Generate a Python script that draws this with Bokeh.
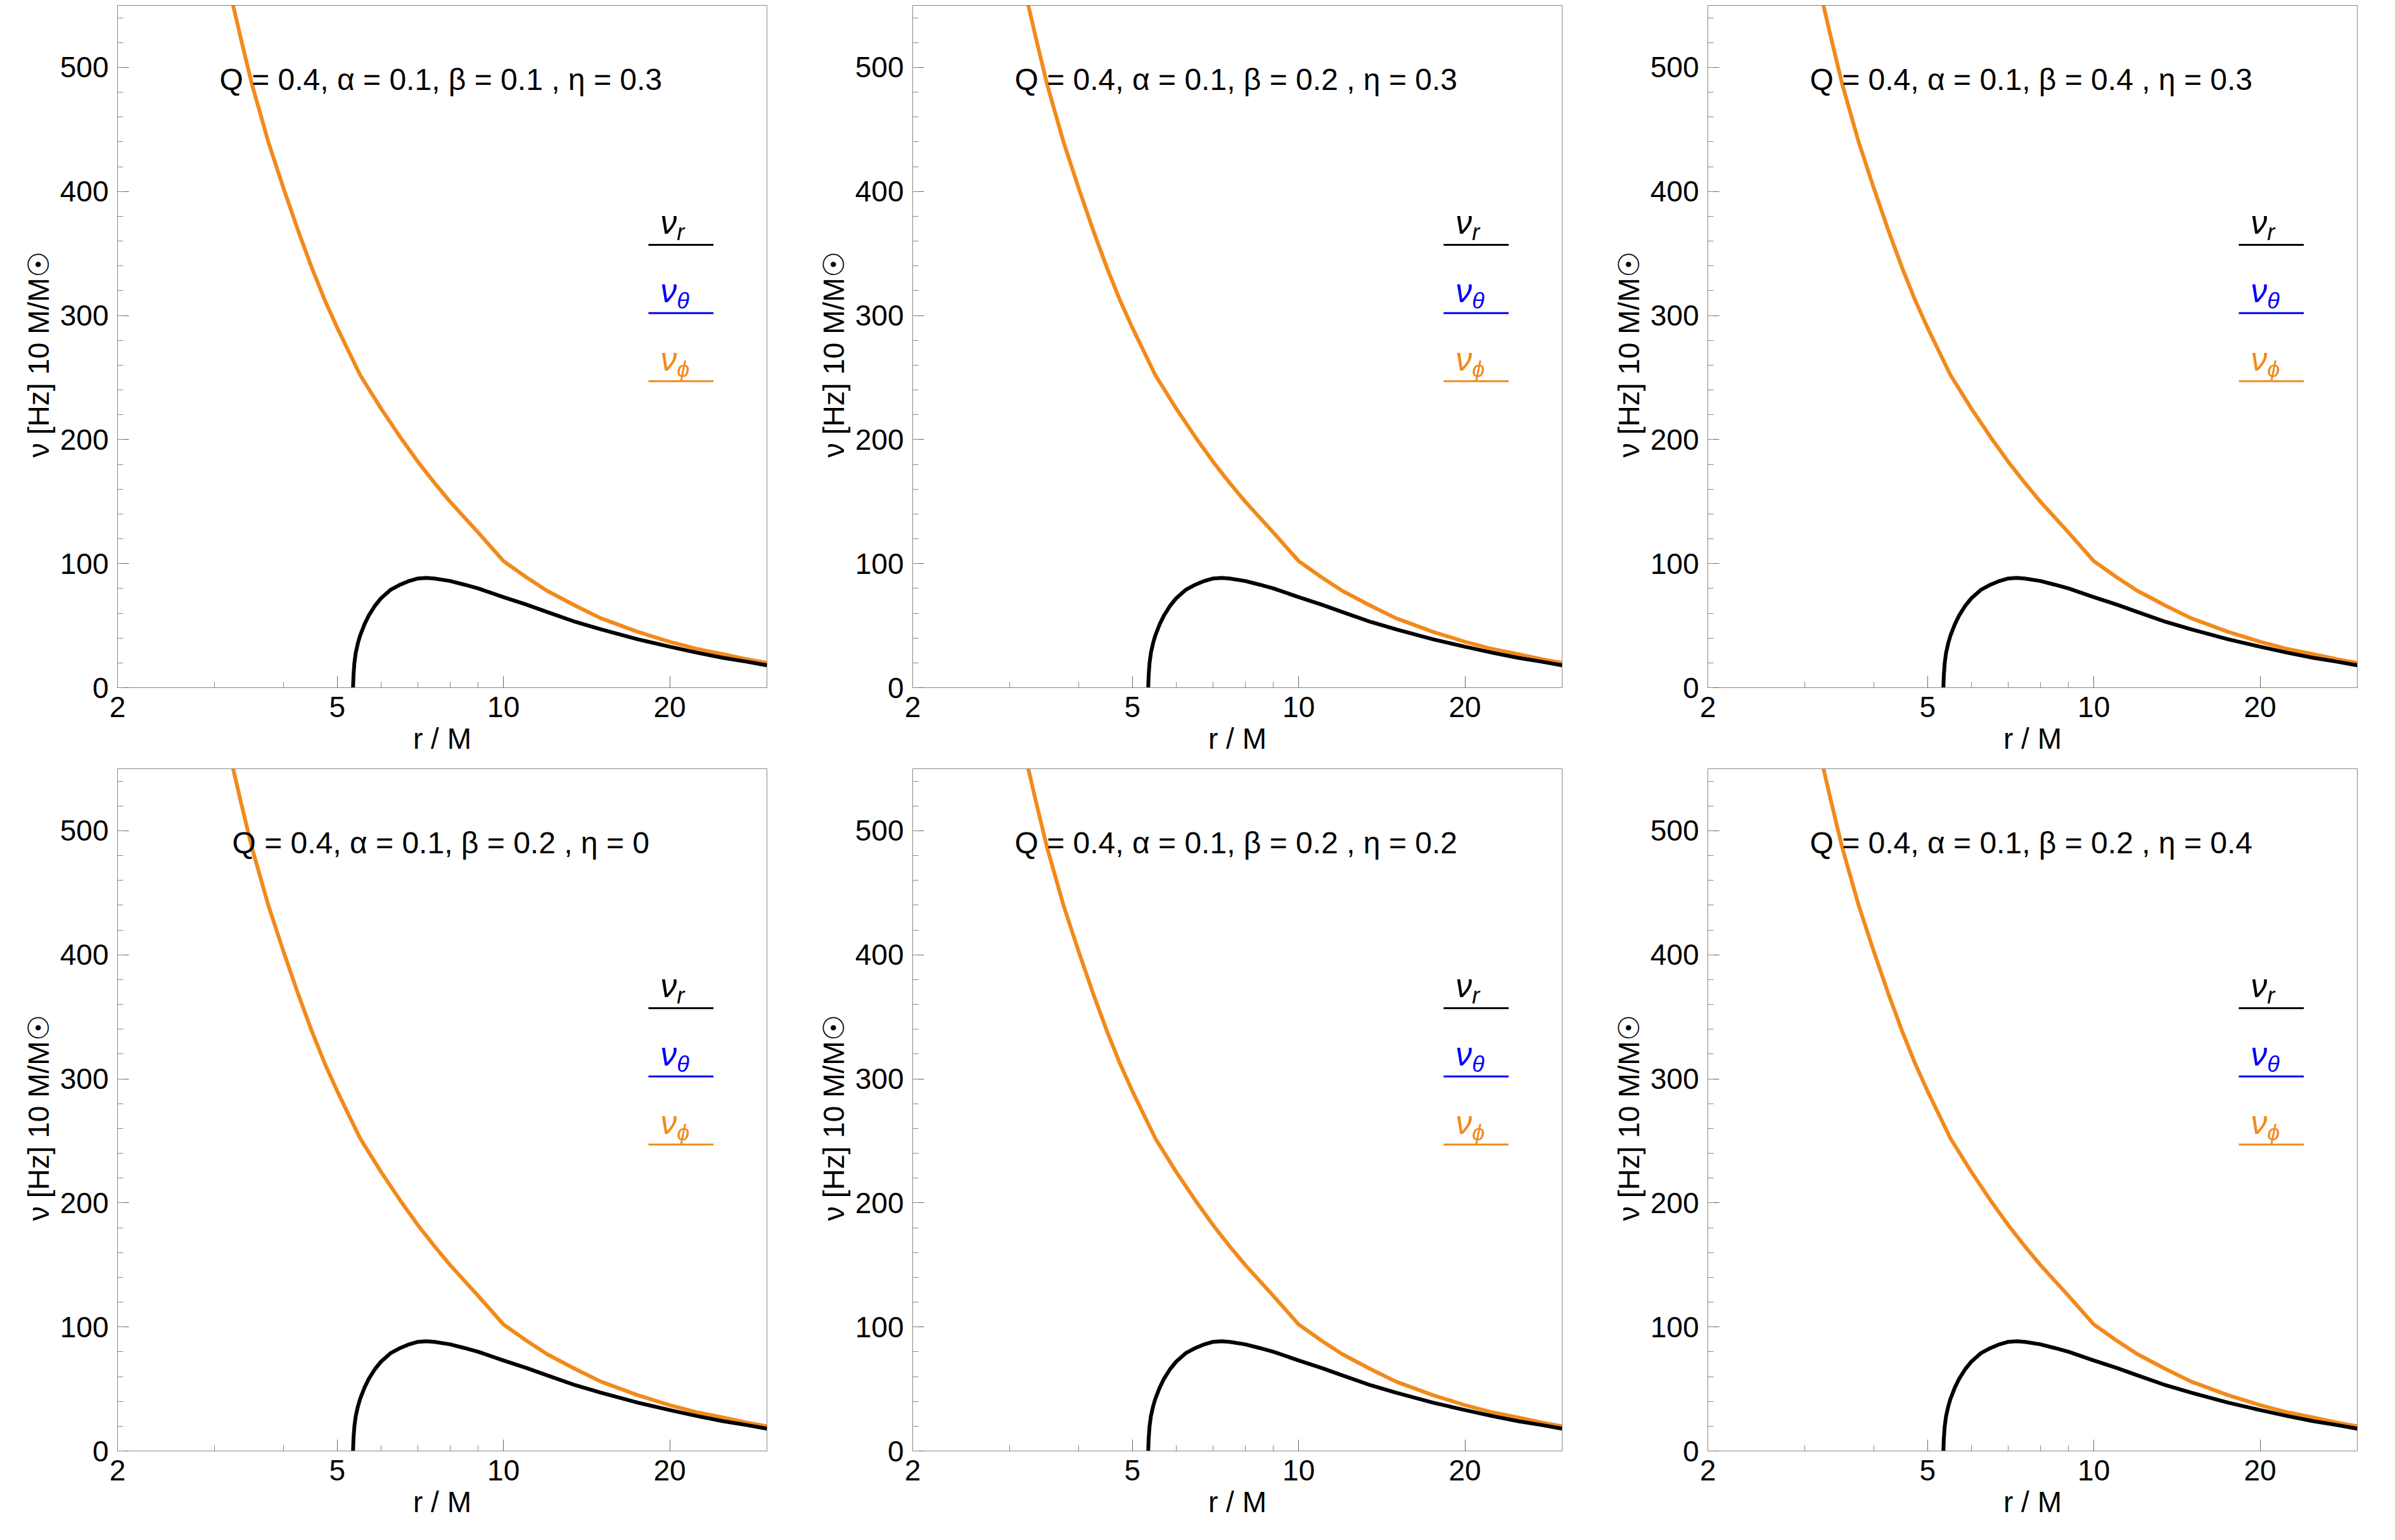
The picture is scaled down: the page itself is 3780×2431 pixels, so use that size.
from bokeh.plotting import figure
from bokeh.layouts import gridplot
from bokeh.models import FixedTicker, Label, Range1d
from bokeh.embed import file_html
from bokeh.resources import INLINE

# data (all panels nearly identical)
r_phi = [3.2, 3.35, 3.5, 3.75, 4, 4.25, 4.5, 4.75, 5, 5.5, 6, 6.5, 7, 7.5, 8, 9, 10,
         11, 12, 13.5, 15, 17.5, 20, 22.5, 25, 27.5, 30]
nu_phi = [560, 522, 487, 440, 402, 368, 338, 312, 290, 252, 225, 202, 182, 165, 150,
          125, 102, 89, 78, 66, 56, 45, 37, 31, 27, 23, 20]
r_r = [5.34, 5.35, 5.37, 5.4, 5.45, 5.5, 5.6, 5.7, 5.85, 6, 6.25, 6.5, 6.75, 7, 7.25,
       7.5, 8, 8.5, 9, 10, 11, 12, 13.5, 15, 17.5, 20, 22.5, 25, 27.5, 30]
nu_r = [0, 10, 20, 28, 36, 42, 51, 58, 66, 72, 79, 83, 86, 88, 88.5, 88, 86, 83, 80,
        73, 67, 61, 53, 47, 39, 33, 28, 24, 21, 18]

titles = [
    "Q = 0.4, α = 0.1, β = 0.1 , η = 0.3",
    "Q = 0.4, α = 0.1, β = 0.2 , η = 0.3",
    "Q = 0.4, α = 0.1, β = 0.4 , η = 0.3",
    "Q = 0.4, α = 0.1, β = 0.2 , η = 0",
    "Q = 0.4, α = 0.1, β = 0.2 , η = 0.2",
    "Q = 0.4, α = 0.1, β = 0.2 , η = 0.4",
]
x_ticks = [2, 5, 10, 20]
x_minor = [3, 4, 6, 7, 8, 9, 30]
y_ticks = [0, 100, 200, 300, 400, 500]
y_minor = list(range(0, 560, 20))

ORANGE = "#f28a1b"
FONT = "Liberation Sans"


def style_axis(ax):
    ax.major_tick_in = 18
    ax.major_tick_out = 0
    ax.minor_tick_in = 9
    ax.minor_tick_out = 0
    ax.axis_line_color = "#888888"
    ax.major_tick_line_color = "#666666"
    ax.minor_tick_line_color = "#888888"
    ax.major_label_text_font = FONT
    ax.major_label_text_font_size = "46px"
    ax.major_label_text_color = "black"
    ax.major_label_standoff = 14
    ax.axis_label_text_font = FONT
    ax.axis_label_text_font_size = "46px"
    ax.axis_label_text_font_style = "normal"
    ax.axis_label_text_color = "black"


def panel(title):
    p = figure(width=1255, height=1205, x_axis_type="log", output_backend="svg",
               toolbar_location=None, x_range=Range1d(2, 30), y_range=Range1d(0, 550),
               min_border_left=185, min_border_right=45, min_border_top=8,
               min_border_bottom=120)
    p.grid.visible = False
    p.outline_line_color = "#888888"
    p.line(r_phi, nu_phi, line_color="blue", line_width=4)
    p.line(r_phi, nu_phi, line_color=ORANGE, line_width=6)
    p.line(r_r, nu_r, line_color="black", line_width=6)

    p.xaxis.ticker = FixedTicker(ticks=x_ticks, minor_ticks=x_minor)
    p.xaxis.axis_label = "r / M"
    p.yaxis.ticker = FixedTicker(ticks=y_ticks, minor_ticks=y_minor)
    p.yaxis.axis_label = "ν  [Hz]  10 M/M☉"
    style_axis(p.xaxis[0])
    style_axis(p.yaxis[0])

    p.add_layout(Label(x=7.7, y=490, text=title, text_align="center",
                       text_baseline="middle", text_font=FONT, text_color="black",
                       text_font_size="48px"))
    for yl, yt, col, sub in [(357, 375, "black", "r"), (302, 320, "blue", "θ"),
                             (247, 265, ORANGE, "ϕ")]:
        p.segment(x0=[18.3], y0=[yl], x1=[24.0], y1=[yl], line_color=col, line_width=3)
        p.add_layout(Label(x=20.6, y=yt, text="ν", text_color=col, text_font=FONT,
                           text_font_size="52px", text_font_style="italic",
                           text_align="right", text_baseline="middle"))
        p.add_layout(Label(x=20.6, y=yt - 8, text=sub, text_color=col, text_font=FONT,
                           text_font_size="36px", text_font_style="italic",
                           text_align="left", text_baseline="middle"))
    return p


figs = [panel(t) for t in titles]
grid = gridplot([figs[0:3], figs[3:6]], toolbar_location=None)
open("out.html", "w").write(file_html(grid, INLINE))
